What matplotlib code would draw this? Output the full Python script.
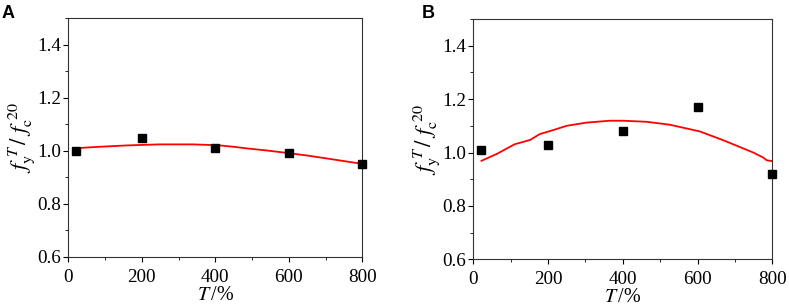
import matplotlib
matplotlib.use("Agg")
import matplotlib.pyplot as plt
from matplotlib.ticker import MultipleLocator

plt.rcParams['font.family'] = ['Liberation Serif', 'DejaVu Serif']
plt.rcParams['mathtext.fontset'] = 'stix'

# Panel A data
a_pts_x = [20, 200, 400, 600, 800]
a_pts_y = [1.00, 1.05, 1.009, 0.99, 0.951]
a_curve_x = [18, 60, 100, 159, 200, 249, 300, 340, 380, 413, 450, 485, 540, 594, 650, 703, 750, 798]
a_curve_y = [1.009, 1.013, 1.016, 1.020, 1.022, 1.024, 1.024, 1.024, 1.022, 1.020, 1.015, 1.009, 1.001, 0.992, 0.982, 0.971, 0.961, 0.951]

# Panel B data
b_pts_x = [20, 200, 400, 600, 800]
b_pts_y = [1.009, 1.029, 1.079, 1.169, 0.919]
b_curve_x = [22, 62, 111, 152, 178, 214, 250, 303, 366, 401, 464, 526, 606, 669, 749, 776, 785, 798]
b_curve_y = [0.969, 0.994, 1.031, 1.047, 1.069, 1.084, 1.100, 1.112, 1.119, 1.119, 1.115, 1.104, 1.079, 1.046, 1.000, 0.981, 0.971, 0.968]

xticks = [0, 200, 400, 600, 800]
yticks = [0.6, 0.8, 1.0, 1.2, 1.4]

W, H = 789, 306
fig = plt.figure(figsize=(W / 100, H / 100), dpi=100)

def px(l, t, r, b):
    return [l / W, 1 - b / H, (r - l) / W, (b - t) / H]

panels = [
    ("A", px(68.3, 18.3, 362.3, 256.7), a_pts_x, a_pts_y, a_curve_x, a_curve_y, 2),
    ("B", px(473.3, 19.0, 772.3, 259.3), b_pts_x, b_pts_y, b_curve_x, b_curve_y, 422),
]

for lab, rect, px_, py_, cx, cy, lx in panels:
    ax = fig.add_axes(rect)
    ax.plot(cx, cy, color='#ff0000', lw=1.3, zorder=2)
    ax.plot(px_, py_, 's', color='black', ms=5.2, zorder=3, clip_on=False)
    ax.set_xlim(0, 800)
    ax.set_ylim(0.6, 1.5)
    ax.set_xticks(xticks)
    ax.set_yticks(yticks)
    ax.set_yticklabels([f"{v:.1f}" for v in yticks])
    ax.xaxis.set_minor_locator(MultipleLocator(100))
    ax.yaxis.set_minor_locator(MultipleLocator(0.1))
    ax.tick_params(which='major', direction='out', length=3.5, width=0.8, labelsize=13.8)
    ax.tick_params(axis='x', which='major', pad=5)
    ax.tick_params(axis='y', which='major', pad=2)
    ax.tick_params(which='minor', direction='out', length=2, width=0.6)
    for s in ax.spines.values():
        s.set_linewidth(0.8)
        s.set_color('#333333')
    ax.set_xlabel(r'$T\,$/%', fontsize=14.5, labelpad=0)
    ax.set_ylabel(r'$f_{\rm y}^{\ T}\,/\ f_{\rm c}^{\ 20}$', fontsize=16.5, labelpad=0)
    fig.text(lx / W, 1 - 5 / H, lab, fontsize=13, fontweight='bold',
             family='Liberation Sans', va='top', ha='left')

fig.savefig('out.png', dpi=100)
